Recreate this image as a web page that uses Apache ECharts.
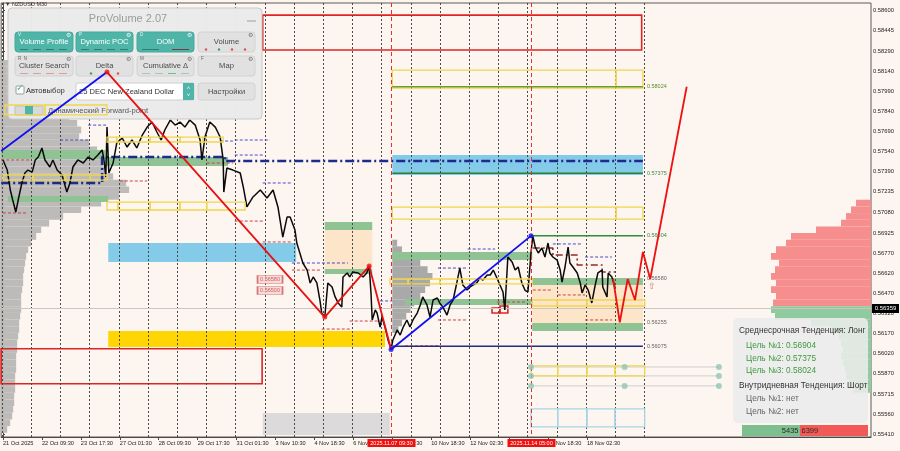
<!DOCTYPE html>
<html><head><meta charset="utf-8">
<script src="https://cdn.jsdelivr.net/npm/echarts@6/dist/echarts.min.js"></script>
<style>html,body{margin:0;padding:0;background:#fdf5f0;}#c{width:900px;height:451px;}</style>
</head><body><div id="c"></div>
<script>
// ---------------- DATA ----------------
const xLabelBars = [0,64,128,192,256,320,384,448,512,576,640,704,768,832,896,960];
const xLabels = ['21 Oct 2025','22 Oct 09:30','23 Oct 17:30','27 Oct 01:30','28 Oct 09:30','29 Oct 17:30','31 Oct 01:30','3 Nov 10:30','4 Nov 18:30','6 Nov 02:30','7 Nov 10:30','10 Nov 18:30','12 Nov 02:30','13 Nov 10:30','14 Nov 18:30','18 Nov 02:30'];
const yLabelValues = [0.58600,0.58445,0.58290,0.58140,0.57990,0.57840,0.57690,0.57540,0.57390,0.57235,0.57080,0.56925,0.56770,0.56620,0.56470,0.56320,0.56170,0.56020,0.55870,0.55715,0.55560,0.55410];
const daySeparatorBars = [-2,46,94,142,190,238,286,334,382,430,478,526,574,622,670,718,766,814,862,910,958,1006,1054];
const markedTimeBars = [638, 868];
const markedTimeLabels = ['2025.11.07 09:30','2025.11.14 05:00'];
const currentPrice = 0.56359;

// price path [bar, price] (M30 bars)
const pricePath = [
[0,0.57474],[7,0.57398],[12,0.57248],[16,0.57173],[21,0.57083],[25,0.57173],[31,0.57301],[36,0.57376],[41,0.57398],[48,0.57383],
[53,0.57474],[58,0.57496],[64,0.57564],[69,0.57474],[77,0.57421],[82,0.57474],[89,0.57398],[97,0.57361],[105,0.57233],[110,0.57301],
[115,0.57421],[123,0.57474],[132,0.57451],[140,0.57496],[148,0.57474],[156,0.57511],[163,0.57549],[166,0.57474],[169,0.57346],[171,0.57721],
[174,0.57376],[181,0.57451],[187,0.57601],[196,0.57639],[204,0.57571],[212,0.57624],[220,0.57564],[229,0.57661],[237,0.57721],[245,0.57759],
[253,0.57684],[260,0.57624],[266,0.57699],[275,0.57774],[283,0.57736],[291,0.57759],[299,0.57721],[307,0.57774],[316,0.57736],[324,0.57624],
[327,0.57474],[332,0.57646],[340,0.57759],[349,0.57721],[353,0.57684],[357,0.57646],[362,0.57474],[363,0.57233],[368,0.57413],[378,0.57398],
[390,0.57376],[395,0.57271],[401,0.57121],[411,0.57196],[423,0.57248],[434,0.57188],[444,0.57248],[452,0.57121],[460,0.56895],[467,0.57045],
[472,0.57045],[480,0.56948],[483,0.56850],[488,0.56775],[493,0.56700],[500,0.56647],[505,0.56550],[510,0.56595],[516,0.56550],[521,0.56422],
[524,0.56324],[529,0.56294],[534,0.56550],[541,0.56520],[546,0.56445],[551,0.56400],[557,0.56370],[559,0.56595],[566,0.56625],[570,0.56595],
[575,0.56632],[584,0.56625],[592,0.56595],[598,0.56625],[602,0.56677],[605,0.56475],[607,0.56272],[612,0.56347],[615,0.56324],[620,0.56219],
[623,0.56294],[628,0.56219],[633,0.56122],[638,0.56054],[641,0.56122],[648,0.56197],[653,0.56159],[658,0.56219],[664,0.56272],[669,0.56219],
[674,0.56272],[681,0.56324],[686,0.56385],[690,0.56445],[697,0.56385],[702,0.56294],[707,0.56422],[714,0.56437],[718,0.56400],[723,0.56370],
[730,0.56309],[735,0.56385],[740,0.56422],[746,0.56550],[751,0.56662],[756,0.56535],[763,0.56497],[768,0.56520],[773,0.56535],[779,0.56550],
[784,0.56587],[789,0.56572],[796,0.56610],[801,0.56610],[806,0.56647],[812,0.56587],[817,0.56535],[822,0.56482],[825,0.56347],[830,0.56745],
[837,0.56707],[842,0.56647],[847,0.56670],[853,0.56550],[858,0.56497],[863,0.56482],[868,0.56775],[871,0.56904],[875,0.56820],[880,0.56775],
[886,0.56813],[891,0.56745],[896,0.56850],[899,0.56775],[904,0.56745],[911,0.56722],[916,0.56647],[919,0.56557],[924,0.56670],[929,0.56820],
[932,0.56700],[937,0.56670],[944,0.56625],[949,0.56550],[952,0.56475],[957,0.56535],[962,0.56497],[968,0.56400],[973,0.56520],[978,0.56625],
[985,0.56647],[986,0.56520],[993,0.56445],[995,0.56625],[1001,0.56595],[1006,0.56520]
];

// zigzag pivots
const pivotBars   = [-3, 171, 529, 602, 638, 868];
const pivotPrices = [0.57541, 0.58134, 0.56294, 0.56677, 0.56050, 0.56904];
// forecast path
const forecastBars   = [1003, 1014, 1027, 1039, 1052, 1064, 1124];
const forecastPrices = [0.56580, 0.56255, 0.56580, 0.56422, 0.56783, 0.56580, 0.58024];

// target levels
const targetLevels = [0.58024, 0.57375, 0.56904, 0.56580, 0.56255, 0.56075];
const targetStartBars = [640, 640, 870, 870, 870, 640];
const targetEndBar = 1052;

// zones [startBar, endBar, highPrice, lowPrice]
const goldZones  = [[173,628,0.56189,0.56069]];
const blueZones  = [[173,482,0.56850,0.56707],[640,1052,0.57511,0.57361]];
const greenZones = [[-3,168,0.57549,0.57481],[168,370,0.57496,0.57428],[8,173,0.57203,0.57158],
                    [529,607,0.57008,0.56948],[529,607,0.56655,0.56617],
                    [640,870,0.56783,0.56722],[661,870,0.56430,0.56385],
                    [870,1052,0.56587,0.56535],[870,1052,0.56250,0.56189]];
const peachZones = [[529,607,0.56948,0.56655],[870,1052,0.56535,0.56250]];
const grayZones  = [[427,636,0.55573,0.55408]];
const redBoxes   = [[427,1050,0.58562,0.58300],[-3,426,0.56056,0.55793],[804,817,0.56362,0.56324],[817,830,0.56377,0.56324]];
const yellowBoxes = [
  [640,1008,0.58149,0.58014],[1008,1052,0.58149,0.58014],
  [640,1008,0.57120,0.57030],[1008,1052,0.57120,0.57030],
  [171,189,0.57158,0.57098],[189,242,0.57158,0.57098],[242,291,0.57158,0.57098],[291,335,0.57158,0.57098],[335,398,0.57158,0.57098],
  [171,187,0.57646,0.57609],[187,242,0.57646,0.57609],[242,291,0.57646,0.57609],[291,329,0.57646,0.57609],[329,362,0.57646,0.57609],
  [0,49,0.57361,0.57323],[49,102,0.57361,0.57323],[102,143,0.57361,0.57323],[143,171,0.57361,0.57323],
  [3,69,0.57887,0.57812],[69,171,0.57887,0.57812],
  [636,666,0.56580,0.56543],[666,718,0.56580,0.56543],[718,870,0.56580,0.56543],
  [870,911,0.56422,0.56377],[911,960,0.56422,0.56377],[960,1055,0.56422,0.56377],
  [868,912,0.55927,0.55852],[912,960,0.55927,0.55852],[960,1006,0.55927,0.55852],[1006,1055,0.55927,0.55852]
];
const cyanBoxes = [[868,912,0.55604,0.55469],[912,960,0.55604,0.55469],[960,1006,0.55604,0.55469],[1006,1055,0.55604,0.55469]];

// short level segments [startBar, endBar, price]
const navySegments = [[140,171,0.57736],[94,143,0.57624],[357,378,0.57616],[381,427,0.57511],[427,475,0.57301],[475,567,0.56700],
  [620,640,0.56415],[715,763,0.56662],[764,809,0.56805],[904,952,0.56843],[957,1001,0.56745],[381,439,0.57624]];
const redSegments = [[-3,44,0.57474],[0,41,0.57076],[192,237,0.57316],[335,378,0.57451],[381,427,0.57015],[427,475,0.56858],
  [475,524,0.56647],[524,570,0.56204],[570,617,0.56264],[661,715,0.56077],[715,763,0.56272],[812,858,0.56407],
  [871,904,0.56497],[912,957,0.56460],[957,1001,0.56272]];

// dynamic POC step lines
const navyPocPath = [[-3,0.57301],[163,0.57301],[163,0.57496],[365,0.57496],[365,0.57466],[1052,0.57466]];
const redPocPath  = [[871,0.56813],[904,0.56813],[904,0.56760],[944,0.56760],[944,0.56685],[985,0.56685],[985,0.56632],[1006,0.56632]];

// volume profiles
const leftProfilePrices = [0.5820,0.5815,0.5810,0.5805,0.5800,0.5795,0.5790,0.5785,0.5780,0.5775,0.5770,0.5765,0.5760,0.5755,0.5750,0.5745,0.5740,0.5735,0.5730,0.5725,0.5720,0.5715,0.5710,0.5705,0.5700,0.5695,0.5690,0.5685,0.5680,0.5675,0.5670,0.5665,0.5660,0.5655,0.5650,0.5645,0.5640,0.5635,0.5630,0.5625,0.5620,0.5615,0.5610,0.5605,0.5600,0.5595,0.5590,0.5585,0.5580,0.5575,0.5570,0.5565,0.5560,0.5555,0.5550,0.5545];
const leftProfileVolumes = [120,200,250,280,350,400,500,600,680,760,800,780,880,960,1000,1020,1050,1120,1250,1280,1180,1000,800,620,480,400,350,300,270,250,240,230,220,220,210,200,200,200,190,180,180,170,160,160,150,150,150,140,140,140,130,130,120,110,90,60];
const rightProfilePrices = [0.5715,0.5710,0.5705,0.5700,0.5695,0.5690,0.5685,0.5680,0.5675,0.5670,0.5665,0.5660,0.5655,0.5650,0.5645,0.5640,0.5635,0.5630,0.5625,0.5620,0.5615,0.5610,0.5605,0.5600,0.5595,0.5590,0.5585,0.5580,0.5575];
const rightProfileVolumes = [150,200,250,300,550,800,850,950,1000,920,960,1000,950,1000,950,980,1000,960,600,400,320,300,280,300,280,260,250,220,180];
const miniProfileStartBar = 640;
const miniProfilePrices = [0.5685,0.5680,0.5675,0.5670,0.5665,0.5660,0.5655,0.5650,0.5645,0.5640,0.5635,0.5630,0.5625,0.5620];
const miniProfileVolumes = [8,16,25,46,58,66,62,54,46,36,30,23,16,10];

// price tags & markers
const priceTags = [[439,0.56576,'0.56580'],[439,0.56493,'0.56500']];
const signalMarkers = [[1067,0.56520]];
const tealMarkerBars = [868, 1022, 1177];
const tealMarkerPrices = [0.55919, 0.55852, 0.55777];
const tealDots = [[868,0.55919],[868,0.55852],[868,0.55777],[1022,0.55919],[1022,0.55777],[1177,0.55919],[1177,0.55852],[1177,0.55777]];

// info panel
const trendTitle1 = 'Среднесрочная Тенденция: Лонг';
const trendTargets1 = ['Цель №1: 0.56904','Цель №2: 0.57375','Цель №3: 0.58024'];
const trendTitle2 = 'Внутридневная Тенденция: Шорт';
const trendTargets2 = ['Цель №1: нет','Цель №2: нет'];
const buyVolume = 5435, sellVolume = 6399;

// ---------------- CHART ----------------
const FONT = '"Liberation Sans", Arial, sans-serif';
const chart = echarts.init(document.getElementById('c'), null, {renderer:'canvas', width:900, height:451});

function rectSeries(name, data, style, z){
  return {type:'custom', name, z, silent:true, animation:false, xAxisIndex:0, yAxisIndex:0,
    encode:{x:[0,1], y:[2,3]}, data,
    renderItem(params, api){
      const a = api.coord([api.value(0), api.value(2)]);
      const b = api.coord([api.value(1), api.value(3)]);
      return {type:'rect', shape:{x:a[0], y:a[1], width:b[0]-a[0], height:b[1]-a[1]}, style};
    }};
}
function segSeries(name, data, stroke, dash, z){
  return {type:'custom', name, z, silent:true, animation:false,
    encode:{x:[0,1], y:2}, data,
    renderItem(params, api){
      const a = api.coord([api.value(0), api.value(2)]);
      const b = api.coord([api.value(1), api.value(2)]);
      return {type:'line', shape:{x1:a[0], y1:a[1], x2:b[0], y2:b[1]}, style:{stroke, lineWidth:1, lineDash:dash}};
    }};
}
const HALF = 0.00025;
function profileSeries(name, prices, vols, axisIdx, colorFn, z){
  return {type:'custom', name, z, silent:true, animation:false, xAxisIndex:axisIdx, yAxisIndex:0,
    encode:{x:0, y:1}, data: prices.map((p,i)=>[vols[i], p]),
    renderItem(params, api){
      const v = api.value(0), p = api.value(1);
      const a = api.coord([0, p + HALF]);
      const b = api.coord([v, p - HALF]);
      return {type:'rect', shape:{x:Math.min(a[0],b[0]), y:a[1], width:Math.abs(b[0]-a[0]), height:b[1]-a[1]},
              style:{fill: colorFn(p)}};
    }};
}

const series = [];
series.push(profileSeries('leftProfile', leftProfilePrices, leftProfileVolumes, 1, ()=> '#bdbbb9', 1));
series.push(profileSeries('rightProfile', rightProfilePrices, rightProfileVolumes, 2, p => p > currentPrice ? '#f58e8c' : '#8fcb9e', 1));
series.push({type:'custom', name:'miniProfile', z:1, silent:true, animation:false,
  encode:{x:0,y:1}, data: miniProfilePrices.map((p,i)=>[miniProfileVolumes[i], p]),
  renderItem(params, api){
    const a = api.coord([miniProfileStartBar, api.value(1)+HALF]);
    const b = api.coord([miniProfileStartBar + api.value(0), api.value(1)-HALF]);
    return {type:'rect', shape:{x:a[0], y:a[1], width:b[0]-a[0], height:b[1]-a[1]}, style:{fill:'#a9a9a9'}};
  }});
series.push(rectSeries('gray', grayZones, {fill:'#dcdada'}, 1));
series.push(rectSeries('peach', peachZones, {fill:'#fce5c8'}, 1.5));
series.push(rectSeries('green', greenZones, {fill:'#8fc393'}, 2));
series.push(rectSeries('blue', blueZones, {fill:'#84cbe9'}, 2));
series.push(rectSeries('gold', goldZones, {fill:'#ffd604'}, 2));
series.push(rectSeries('redBoxes', redBoxes, {fill:null, stroke:'#e02424', lineWidth:1.6}, 2));
// day separators
series.push({type:'custom', name:'separators', z:2.5, silent:true, animation:false,
  encode:{x:0}, data: daySeparatorBars.map(b=>[b, 0.57]),
  renderItem(params, api){
    const cs = params.coordSys;
    const x = Math.round(api.coord([api.value(0), 0.57])[0]) + 0.5;
    return {type:'line', shape:{x1:x, y1:cs.y, x2:x, y2:cs.y+cs.height}, style:{stroke:'#4a4a4a', lineWidth:1, lineDash:[2,2]}};
  }});
series.push(segSeries('navySeg', navySegments, '#4b4bc8', [3,2], 2.5));
series.push(segSeries('redSeg', redSegments, '#d04040', [3,2], 2.5));
// current price line + label
series.push({type:'custom', name:'current', z:2.6, silent:true, animation:false,
  encode:{y:1}, data:[[0, currentPrice]],
  renderItem(params, api){
    const cs = params.coordSys;
    const y = Math.round(api.coord([0, api.value(1)])[1]) + 0.5;
    return {type:'group', children:[
      {type:'line', shape:{x1:cs.x, y1:y, x2:cs.x+cs.width, y2:y}, style:{stroke:'#c9c6c4', lineWidth:1}},
      {type:'rect', shape:{x:cs.x+cs.width+1, y:y-4.5, width:27, height:9}, style:{fill:'#000'}},
      {type:'text', style:{x:cs.x+cs.width+14.5, y:y, text:currentPrice.toFixed(5), fill:'#fff', fontSize:6, fontFamily:FONT, align:'center', verticalAlign:'middle'}}
    ]};
  }});
series.push({type:'line', name:'navyPoc', z:3, silent:true, animation:false, showSymbol:false, data:navyPocPath,
  lineStyle:{color:'#1d2a8e', width:2.6, type:[9,3,2,3]}});
series.push({type:'line', name:'redPoc', z:3, silent:true, animation:false, showSymbol:false, data:redPocPath,
  lineStyle:{color:'#8e2b2b', width:1.6, type:[7,3,2,3]}});
series.push({type:'line', name:'price', z:3.5, silent:true, animation:false, showSymbol:false, data:pricePath,
  lineStyle:{color:'#0a0a0a', width:1.5}});
series.push(rectSeries('yellow', yellowBoxes, {fill:null, stroke:'#f0d64e', lineWidth:1.3}, 5));
series.push(rectSeries('cyan', cyanBoxes, {fill:null, stroke:'#a6d6e6', lineWidth:1.3}, 5));
// teal marker lines & dots
series.push(segSeries('tealLines', tealMarkerPrices.map(p=>[tealMarkerBars[0], tealMarkerBars[2], p]), '#cfcfcf', null, 4.8));
series.push({type:'scatter', name:'tealDots', z:5, silent:true, animation:false, data:tealDots, symbolSize:6,
  itemStyle:{color:'#8fc7b6'}});
// target lines and labels
const targetLineColors = ['#6f9a2c','#2c7f34','#2f8e3a',null,null,'#2a2a7a'];
const targetTextColors = ['#5f8a28','#3e8a44','#3a8c44','#666','#666','#666'];
series.push({type:'custom', name:'targets', z:5, silent:true, animation:false,
  encode:{x:[0,1], y:2}, data: targetLevels.map((p,i)=>[targetStartBars[i], targetEndBar, p, i]),
  renderItem(params, api){
    const i = api.value(3);
    const a = api.coord([api.value(0), api.value(2)]);
    const b = api.coord([api.value(1), api.value(2)]);
    const ch = [];
    if (targetLineColors[i]) ch.push({type:'line', shape:{x1:a[0], y1:a[1], x2:b[0], y2:b[1]}, style:{stroke:targetLineColors[i], lineWidth:1.5}});
    ch.push({type:'text', style:{x:b[0]+4, y:b[1], text:api.value(2).toFixed(5), fill:targetTextColors[i], fontSize:5.5, fontFamily:FONT, verticalAlign:'middle'}});
    return {type:'group', children:ch};
  }});
// marked time verticals
series.push({type:'custom', name:'marked', z:5, silent:true, animation:false,
  encode:{x:0}, data: markedTimeBars.map((b,i)=>[b, i]),
  renderItem(params, api){
    const cs = params.coordSys;
    const x = Math.round(api.coord([api.value(0), 0.57])[0]) + 0.5;
    const bottom = cs.y + cs.height;
    return {type:'group', children:[
      {type:'line', shape:{x1:x, y1:cs.y, x2:x, y2:bottom}, style:{stroke:'#e03030', lineWidth:1, lineDash:[4,3]}},
      {type:'rect', shape:{x:x-24, y:bottom+2, width:48, height:8}, style:{fill:'#f01010'}},
      {type:'text', style:{x:x, y:bottom+6, text:markedTimeLabels[api.value(1)], fill:'#fff', fontSize:5.5, fontFamily:FONT, align:'center', verticalAlign:'middle'}}
    ]};
  }});
// zigzag
const blueLegs = [[0,1],[4,5]];
blueLegs.forEach((lg,k)=> series.push({type:'line', name:'zzBlue'+k, z:6, silent:true, animation:false, showSymbol:false,
  data: lg.map(i=>[pivotBars[i], pivotPrices[i]]), lineStyle:{color:'#1010f0', width:1.8}}));
series.push({type:'line', name:'zzRed', z:6, silent:true, animation:false, showSymbol:false,
  data: [1,2,3,4].map(i=>[pivotBars[i], pivotPrices[i]]), lineStyle:{color:'#e81010', width:1.8}});
series.push({type:'line', name:'forecast', z:6, silent:true, animation:false, showSymbol:false,
  data: forecastBars.map((b,i)=>[b, forecastPrices[i]]), lineStyle:{color:'#ee1111', width:1.8}});
series.push({type:'scatter', name:'pivRed', z:7, silent:true, animation:false, symbolSize:5,
  data:[1,2,3].map(i=>[pivotBars[i], pivotPrices[i]]), itemStyle:{color:'#ee1111'}});
series.push({type:'scatter', name:'pivBlue', z:7, silent:true, animation:false, symbolSize:5,
  data:[4,5].map(i=>[pivotBars[i], pivotPrices[i]]), itemStyle:{color:'#1010f0'}});
series.push({type:'scatter', name:'tags', z:7, silent:true, animation:false, symbol:'rect', symbolSize:[25,8],
  data: priceTags.map(t=>[t[0], t[1], t[2]]),
  itemStyle:{color:'#f7d6d4', borderColor:'#d05656', borderWidth:1},
  label:{show:true, position:'inside', formatter:p=>p.data[2], fontSize:5.5, color:'#c04040', fontFamily:FONT}});
series.push({type:'scatter', name:'signal', z:7, silent:true, animation:false, symbolSize:1,
  data: signalMarkers, itemStyle:{color:'rgba(0,0,0,0)'},
  label:{show:true, position:'inside', formatter:'⇧', fontSize:9, color:'#e05050'}});

// ---------------- GRAPHIC (panels) ----------------
function T(x,y,text,size,fill,align,z,weight){return {type:'text',x,y,z:z,silent:true,style:{text,fontSize:size,fontFamily:FONT,fill,align:align||'left',verticalAlign:'middle',fontWeight:weight||'normal'}};}
function R(x,y,w,h,fill,stroke,r,z){return {type:'rect',z:z,silent:true,shape:{x,y,width:w,height:h,r:r||0},style:{fill,stroke:stroke||null,lineWidth:1}};}
function Ln(x1,y1,x2,y2,stroke,w,z){return {type:'line',z:z,silent:true,shape:{x1,y1,x2,y2},style:{stroke,lineWidth:w||1}};}
function Dot(cx,cy,r,fill,z){return {type:'circle',z:z,silent:true,shape:{cx,cy,r},style:{fill}};}

const G = [];
const PZ = 4;
G.push(T(5,4,'▼ NZDUSD M30',5.5,'#333','left',PZ));
G.push(R(8,8,254,111,'rgba(234,234,234,0.97)','#c9c9c9',4,PZ));
G.push(T(128,19,'ProVolume 2.07',11,'#9b9b9b','center',PZ));
G.push(Ln(247,21,256,21,'#aaa',1.2,PZ));
const TEAL = '#4fb5a9';
const buttons = [
  {x:15,y:32,w:58,t:'Volume Profile',teal:true,k:'V',ind:'tealDash'},
  {x:76,y:32,w:57,t:'Dynamic POC',teal:true,k:'P',ind:'tealDash'},
  {x:137,y:32,w:57,t:'DOM',teal:true,k:'D',ind:'dom'},
  {x:198,y:32,w:57,t:'Volume',teal:false,k:'',ind:'dots4'},
  {x:15,y:56,w:58,t:'Cluster Search',teal:false,k:'R  N',ind:'pinkDash'},
  {x:76,y:56,w:57,t:'Delta',teal:false,k:'',ind:'dots2'},
  {x:137,y:56,w:57,t:'Cumulative Δ',teal:false,k:'M',ind:'greenDash'},
  {x:198,y:56,w:57,t:'Map',teal:false,k:'F',ind:''}
];
buttons.forEach(b=>{
  G.push(R(b.x,b.y,b.w,20,b.teal?TEAL:'#e1e1e1',b.teal?'#46a79b':'#d2d2d2',3,PZ));
  G.push(T(b.x+b.w/2,b.y+10,b.t,7.6,b.teal?'#ffffff':'#4a4a4a','center',PZ));
  if (b.k) G.push(T(b.x+3,b.y+3,b.k,4.5,b.teal?'#e8f6f4':'#666','left',PZ));
  G.push(T(b.x+b.w-5,b.y+3.5,'⚙',5.5,b.teal?'#e8f6f4':'#777','center',PZ));
  const yy = b.y+17.5;
  if (b.ind==='tealDash'){ for(let i=0;i<4;i++) G.push(Ln(b.x+5+i*13,yy,b.x+13+i*13,yy,'#2d7d73',1,PZ)); }
  if (b.ind==='dom'){ G.push(Ln(b.x+5,yy,b.x+22,yy,'#2d7d73',1,PZ)); G.push(Ln(b.x+35,yy,b.x+52,yy,'#7a3b3b',1,PZ)); }
  if (b.ind==='pinkDash'){ for(let i=0;i<4;i++) G.push(Ln(b.x+5+i*13,yy,b.x+13+i*13,yy,'#e29a9a',1,PZ)); }
  if (b.ind==='greenDash'){ for(let i=0;i<4;i++) G.push(Ln(b.x+5+i*13,yy,b.x+13+i*13,yy,i===2?'#6bbf8a':'#9ccfb0',1,PZ)); }
  if (b.ind==='dots4'){ ['#e05050','#40a060','#e05050','#e05050'].forEach((c,i)=>G.push(Dot(b.x+8+i*13,yy,1.2,c,PZ))); }
  if (b.ind==='dots2'){ G.push(Dot(b.x+15,yy,1.2,'#40a060',PZ)); G.push(Dot(b.x+42,yy,1.2,'#e05050',PZ)); }
});
G.push(R(16,86,8,8,'#ffffff','#9a9a9a',1,PZ));
G.push(T(15.5,88,'✓',10,TEAL,'left',PZ));
G.push(T(26,91,'Автовыбор',7.6,'#333','left',PZ));
G.push(R(76,83,118,17,'#ffffff','#cfcfcf',2,PZ));
G.push(R(183,83,11,17,TEAL,null,0,PZ));
G.push(T(188.5,88,'˄',6,'#fff','center',PZ));
G.push(T(188.5,95,'˅',6,'#fff','center',PZ));
G.push(T(79,92,'25 DEC New Zealand Dollar',7.6,'#333','left',PZ));
G.push(R(198,83,57,17,'#e1e1e1','#d2d2d2',3,PZ));
G.push(T(226.5,92,'Настройки',7.6,'#4a4a4a','center',PZ));
G.push(R(15,106,28,9,'#d9d9d9','#bdbdbd',1,PZ));
G.push(R(25,106,8,9,TEAL,null,0,PZ));
G.push(T(48,111,'Динамический Forward-point',7.6,'#555','left',PZ));

const IZ = 8;
G.push(R(733,318,135,105,'rgba(236,236,236,0.88)',null,5,IZ));
G.push(T(739,331,trendTitle1,8.3,'#333','left',IZ));
trendTargets1.forEach((t,i)=>G.push(T(746,346+i*12.5,t,8.3,'#3f9a3f','left',IZ)));
G.push(T(739,385.5,trendTitle2,8.3,'#333','left',IZ));
trendTargets2.forEach((t,i)=>G.push(T(746,398.5+i*13.5,t,8.3,'#666','left',IZ)));
G.push(R(742,425,58,11,'#7dbf8f',null,0,IZ));
G.push(R(800,425,68,11,'#f25a58',null,0,IZ));
G.push(T(798.5,430.5,String(buyVolume),7.5,'#2a2a2a','right',IZ));
G.push(T(801.5,430.5,String(sellVolume),7.5,'#2a2a2a','left',IZ));

const option = {
  backgroundColor:'#fdf5f0',
  animation:false,
  grid:{left:1, right:29, top:3, bottom:14, show:true, borderColor:'#5a5a5a', borderWidth:1, backgroundColor:'#fdf5f0'},
  xAxis:[
    {type:'value', min:-3, max:1427, position:'bottom',
     axisLine:{show:true, lineStyle:{color:'#4a4a4a'}},
     axisTick:{show:true, customValues:xLabelBars, length:3, lineStyle:{color:'#4a4a4a'}},
     axisLabel:{show:true, customValues:xLabelBars, formatter:v=>xLabels[xLabelBars.indexOf(Math.round(v))]||'', align:'left',
       fontSize:5.6, color:'#222', fontFamily:FONT, margin:3},
     splitLine:{show:false}},
    {type:'value', min:0, max:8700, show:false},
    {type:'value', min:0, max:8700, inverse:true, show:false}
  ],
  yAxis:[{type:'value', position:'right', min:0.55393, max:0.58653,
     axisLine:{show:true, lineStyle:{color:'#4a4a4a'}},
     axisTick:{show:true, customValues:yLabelValues, length:2, lineStyle:{color:'#4a4a4a'}},
     axisLabel:{show:true, customValues:yLabelValues, formatter:v=>v.toFixed(5), fontSize:5.8, color:'#222', fontFamily:FONT, margin:2},
     splitLine:{show:false}}],
  series,
  graphic:{elements:G}
};
chart.setOption(option);
</script></body></html>
